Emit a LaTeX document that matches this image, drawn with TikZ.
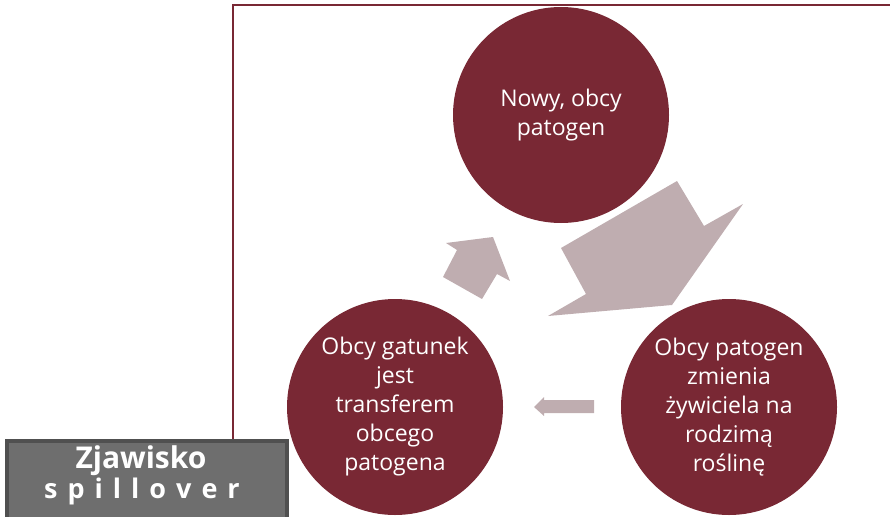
\documentclass[tikz,border=0pt]{standalone}
\usepackage{fontspec}
\setmainfont{Open Sans}
\definecolor{wine}{HTML}{792834}
\definecolor{mauve}{HTML}{BFADB0}
\definecolor{boxgray}{HTML}{6E6E6E}
\definecolor{boxedge}{HTML}{505050}
\begin{document}
\begin{tikzpicture}[x=1pt,y=-1pt,
  bubble/.style={circle, fill=wine, minimum size=216pt, inner sep=0pt, text=white, align=center, font=\fontsize{23}{29}\selectfont},
  blockarrow/.style={fill=mauve, draw=none},
  frameline/.style={draw=wine, line width=1.6pt},
  titlebox/.style={draw=boxedge, fill=boxgray, line width=4pt, minimum width=280pt, minimum height=110pt, anchor=north west, inner sep=0pt},
  titletext/.style={text=white, anchor=base, inner sep=0pt}]
\useasboundingbox (0,0) rectangle (890,516);
\clip (0,0) rectangle (890,516);
% frame
\coordinate (fb) at (233,540);
\coordinate (fc) at (233,5);
\coordinate (fr) at (900,5);
\draw[frameline] (fb) -- (fc) -- (fr);
% circles
\node[bubble] (top) at (561,115) {Nowy, obcy\\patogen};
\node[bubble] (right) at (729,407) {Obcy patogen\\zmienia\\żywiciela na\\rodzimą\\roślinę};
\node[bubble] (left) at (395,407) {Obcy gatunek\\jest\\transferem\\obcego\\patogena};
% block arrows
\fill[blockarrow] (677,181) -- (704,226) -- (743,204) -- (672,305) -- (548,316) -- (586,294) -- (561,248) -- cycle;
\fill[blockarrow] (493,237) -- (510,281) -- (497,274) -- (482,299) -- (443,277) -- (457,250) -- (446,243) -- cycle;
\fill[blockarrow] (534,407) -- (544,397) -- (544,400) -- (594,400) -- (594,413) -- (544,413) -- (544,416) -- cycle;
% title box
\node[titlebox] (box) at (5,439) {};
\node[titletext, font=\fontsize{30}{34}\bfseries\selectfont] (t1) at (141,468) {Zjawisko};
\node[titletext, font=\fontsize{27}{30}\bfseries\selectfont] (t2) at (142,498) {s\hspace{10pt}p\hspace{10pt}i\hspace{10pt}l\hspace{10pt}l\hspace{10pt}o\hspace{10pt}v\hspace{10pt}e\hspace{10pt}r};
\end{tikzpicture}
\end{document}
